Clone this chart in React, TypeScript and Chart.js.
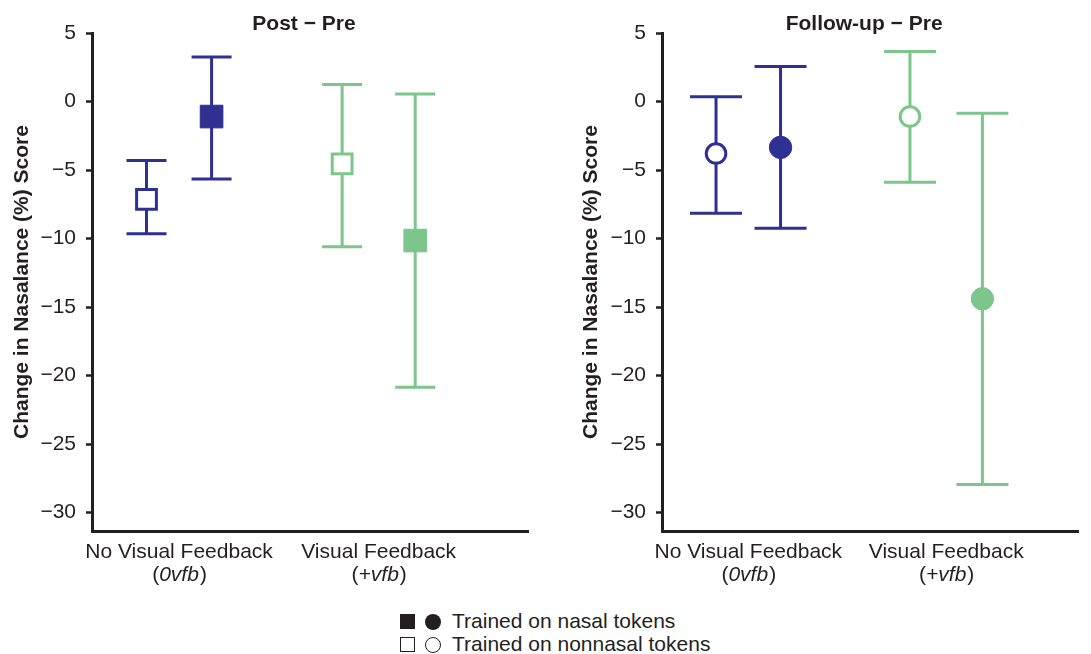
import React, { useEffect, useRef } from "react";
import { Chart, registerables } from "chart.js";

Chart.register(...registerables);

// ---------- data ----------
const categories = ["No Visual Feedback", "Visual Feedback"];
const categoryCodes = ["0vfb", "+vfb"];
const seriesNames = ["Trained on nasal tokens", "Trained on nonnasal tokens"];
const yTicks = [5, 0, -5, -10, -15, -20, -25, -30];

// Post − Pre
const postNonnasalMean = [-7.15, -4.55];
const postNonnasalLow = [-9.65, -10.6];
const postNonnasalHigh = [-4.3, 1.25];
const postNasalMean = [-1.1, -10.15];
const postNasalLow = [-5.65, -20.85];
const postNasalHigh = [3.25, 0.55];

// Follow-up − Pre
const followNonnasalMean = [-3.8, -1.1];
const followNonnasalLow = [-8.15, -5.9];
const followNonnasalHigh = [0.35, 3.65];
const followNasalMean = [-3.35, -14.4];
const followNasalLow = [-9.25, -27.95];
const followNasalHigh = [2.55, -0.85];

// ---------- styles ----------
const FONT = "'Liberation Sans', Arial, Helvetica, sans-serif";
const INK = "#231f20";
const categoryColors = ["#2e3192", "#7cc68c"];
const dodge = [0.163, 0.183];
const FS = 21;

const errorBarPlugin = {
  id: "errorBars",
  beforeDatasetsDraw(chart: any, _args: any, opts: any) {
    const ctx = chart.ctx;
    const yScale = chart.scales.y;
    const capHalf = opts.capHalf || 20;
    chart.data.datasets.forEach((ds: any, di: number) => {
      const meta = chart.getDatasetMeta(di);
      meta.data.forEach((pt: any, i: number) => {
        const x = pt.x;
        const yl = yScale.getPixelForValue(ds.errLow[i]);
        const yh = yScale.getPixelForValue(ds.errHigh[i]);
        ctx.save();
        ctx.strokeStyle = ds.barColors[i];
        ctx.lineWidth = 3;
        ctx.lineCap = "butt";
        ctx.beginPath();
        ctx.moveTo(x, yl);
        ctx.lineTo(x, yh);
        ctx.moveTo(x - capHalf, yl);
        ctx.lineTo(x + capHalf, yl);
        ctx.moveTo(x - capHalf, yh);
        ctx.lineTo(x + capHalf, yh);
        ctx.stroke();
        ctx.restore();
      });
    });
  },
};

const textPlugin = {
  id: "panelText",
  afterDraw(chart: any, _args: any, opts: any) {
    const ctx = chart.ctx;
    const area = chart.chartArea;
    const xScale = chart.scales.x;
    ctx.save();
    ctx.fillStyle = INK;
    ctx.textBaseline = "alphabetic";
    ctx.textAlign = "center";
    ctx.font = `bold ${FS}px ${FONT}`;
    ctx.fillText(opts.title, (area.left + area.right) / 2 - 6, 30);

    categories.forEach((label, i) => {
      const cx = xScale.getPixelForValue(i + 1);
      ctx.font = `${FS}px ${FONT}`;
      ctx.textAlign = "center";
      ctx.fillText(label, cx, 558);
      // second line: (code) with italic code
      const normal = `${FS}px ${FONT}`;
      const italic = `italic ${FS}px ${FONT}`;
      ctx.font = normal;
      const wOpen = ctx.measureText("(").width;
      const wClose = ctx.measureText(")").width;
      ctx.font = italic;
      const wCode = ctx.measureText(categoryCodes[i]).width;
      const total = wOpen + wCode + wClose;
      const x0 = cx - total / 2;
      ctx.textAlign = "left";
      ctx.font = normal;
      ctx.fillText("(", x0, 581);
      ctx.font = italic;
      ctx.fillText(categoryCodes[i], x0 + wOpen, 581);
      ctx.font = normal;
      ctx.fillText(")", x0 + wOpen + wCode + 1, 581);
    });
    ctx.restore();
  },
};

function buildDatasets(
  shape: string,
  nonMean: number[],
  nonLow: number[],
  nonHigh: number[],
  nasMean: number[],
  nasLow: number[],
  nasHigh: number[]
) {
  const isRect = shape === "rect";
  return [
    {
      label: seriesNames[1],
      data: nonMean.map((v, i) => ({ x: i + 1 - dodge[i], y: v })),
      errLow: nonLow,
      errHigh: nonHigh,
      barColors: categoryColors,
      pointStyle: shape,
      pointRadius: isRect ? 14 : 9.8,
      pointBorderWidth: 3,
      pointBackgroundColor: "#ffffff",
      pointBorderColor: categoryColors,
    },
    {
      label: seriesNames[0],
      data: nasMean.map((v, i) => ({ x: i + 1 + dodge[i], y: v })),
      errLow: nasLow,
      errHigh: nasHigh,
      barColors: categoryColors,
      pointStyle: shape,
      pointRadius: isRect ? 16 : 11.2,
      pointBorderWidth: 1,
      pointBackgroundColor: categoryColors,
      pointBorderColor: categoryColors,
    },
  ];
}

function makeConfig(p: {
  title: string;
  datasets: any[];
  yWidth: number;
  yTitlePad: number;
  rightPad: number;
  xMin: number;
  xMax: number;
  capHalf: number;
}) {
  return {
    type: "scatter",
    data: { datasets: p.datasets },
    options: {
      responsive: false,
      animation: false,
      events: [],
      layout: { padding: { left: 0, top: 33, right: p.rightPad, bottom: 69 } },
      plugins: {
        legend: { display: false },
        tooltip: { enabled: false },
        title: { display: false },
        errorBars: { capHalf: p.capHalf },
        panelText: { title: p.title },
      },
      scales: {
        x: {
          type: "linear",
          min: p.xMin,
          max: p.xMax,
          ticks: { display: false },
          grid: { display: false },
          border: { display: true, color: INK, width: 3 },
          afterFit: (s: any) => {
            s.height = 0;
          },
        },
        y: {
          type: "linear",
          min: -31.35,
          max: 5,
          afterBuildTicks: (s: any) => {
            s.ticks = yTicks.map((v) => ({ value: v }));
          },
          afterFit: (s: any) => {
            s.width = p.yWidth;
          },
          ticks: {
            color: INK,
            padding: 10,
            font: { family: FONT, size: FS },
            callback: (v: number) => (v < 0 ? "\u2212" + Math.abs(v) : String(v)),
          },
          grid: {
            display: true,
            drawOnChartArea: false,
            drawTicks: true,
            tickLength: 6,
            tickWidth: 2.5,
            tickColor: INK,
          },
          border: { display: true, color: INK, width: 3 },
          title: {
            display: true,
            text: "Change in Nasalance (%) Score",
            color: INK,
            font: { family: FONT, size: FS, weight: "bold" },
            padding: { top: p.yTitlePad, bottom: 0 },
          },
        },
      },
    },
    plugins: [errorBarPlugin, textPlugin],
  };
}

function Panel(props: { cfg: any; left: number; width: number }) {
  const ref = useRef<HTMLCanvasElement | null>(null);
  useEffect(() => {
    if (!ref.current) return;
    const chart = new Chart(ref.current, props.cfg);
    return () => chart.destroy();
  }, []);
  return (
    <canvas
      ref={ref}
      width={props.width}
      height={600}
      style={{ position: "absolute", left: props.left, top: 0, width: props.width, height: 600 }}
    />
  );
}

export default function App() {
  const leftCfg = makeConfig({
    title: "Post \u2212 Pre",
    datasets: buildDatasets(
      "rect",
      postNonnasalMean,
      postNonnasalLow,
      postNonnasalHigh,
      postNasalMean,
      postNasalLow,
      postNasalHigh
    ),
    yWidth: 92,
    yTitlePad: 10,
    rightPad: 12,
    xMin: 0.564,
    xMax: 2.748,
    capHalf: 20,
  });
  const rightCfg = makeConfig({
    title: "Follow-up \u2212 Pre",
    datasets: buildDatasets(
      "circle",
      followNonnasalMean,
      followNonnasalLow,
      followNonnasalHigh,
      followNasalMean,
      followNasalLow,
      followNasalHigh
    ),
    yWidth: 117,
    yTitlePad: 34,
    rightPad: 0,
    xMin: 0.564,
    xMax: 2.667,
    capHalf: 26,
  });

  const legendText: React.CSSProperties = {
    position: "absolute",
    left: 452,
    font: `${FS}px ${FONT}`,
    lineHeight: "23px",
    color: INK,
    whiteSpace: "nowrap",
  };
  const box = (extra: React.CSSProperties): React.CSSProperties => ({
    position: "absolute",
    boxSizing: "border-box",
    ...extra,
  });

  return (
    <div
      style={{
        position: "absolute",
        left: 0,
        top: 0,
        width: 1091,
        height: 654,
        background: "#ffffff",
        overflow: "hidden",
      }}
    >
      <Panel cfg={leftCfg} left={0} width={545} />
      <Panel cfg={rightCfg} left={545} width={546} />
      <div style={box({ left: 400, top: 614, width: 15, height: 15, background: INK })} />
      <div style={box({ left: 425, top: 613.5, width: 16, height: 16, borderRadius: "50%", background: INK })} />
      <div style={box({ left: 400, top: 637, width: 15, height: 15, border: `1.5px solid ${INK}` })} />
      <div style={box({ left: 425, top: 636.5, width: 16, height: 16, borderRadius: "50%", border: `1.5px solid ${INK}` })} />
      <div style={{ ...legendText, top: 609.2 }}>{seriesNames[0]}</div>
      <div style={{ ...legendText, top: 632.2 }}>{seriesNames[1]}</div>
    </div>
  );
}
